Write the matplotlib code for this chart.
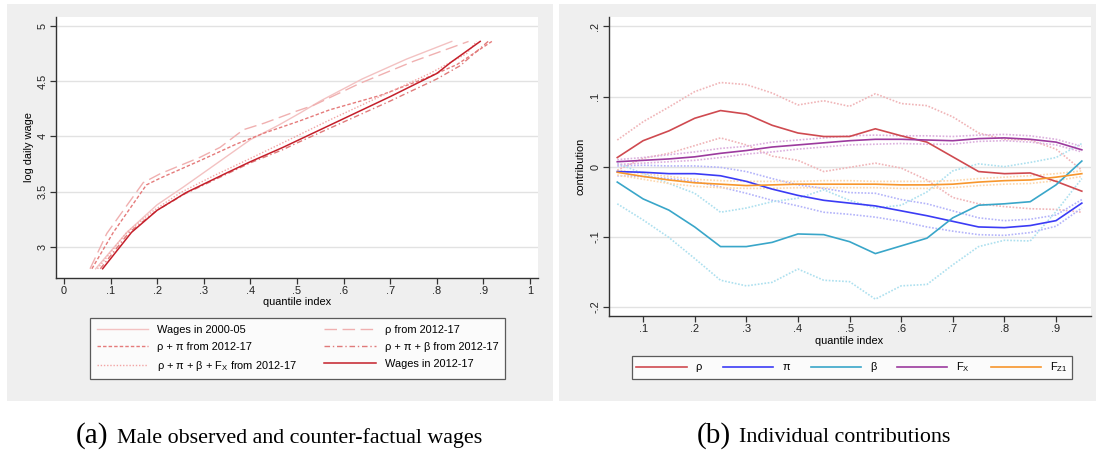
import numpy as np
import matplotlib.pyplot as plt
from matplotlib.patches import Rectangle

plt.rcParams['font.family'] = ['Liberation Sans', 'DejaVu Sans']

# ---- panel (a): observed and counter-factual wage quantiles ----
w0005_x = [0.068, 0.135, 0.20, 0.256, 0.313, 0.40, 0.46, 0.506, 0.55, 0.64, 0.735, 0.832]
w0005_y = [2.80, 3.13, 3.38, 3.54, 3.71, 3.97, 4.10, 4.21, 4.32, 4.52, 4.70, 4.86]

rho_x = [0.056, 0.092, 0.170, 0.206, 0.292, 0.335, 0.385, 0.43, 0.50, 0.535, 0.635, 0.75, 0.868]
rho_y = [2.80, 3.12, 3.58, 3.66, 3.81, 3.90, 4.06, 4.12, 4.23, 4.28, 4.48, 4.68, 4.86]

rp_x = [0.060, 0.106, 0.177, 0.206, 0.292, 0.37, 0.43, 0.506, 0.57, 0.678, 0.778, 0.843, 0.918]
rp_y = [2.80, 3.13, 3.56, 3.62, 3.78, 3.93, 4.03, 4.14, 4.24, 4.37, 4.53, 4.65, 4.86]

rpb_x = [0.078, 0.14, 0.20, 0.26, 0.35, 0.40, 0.47, 0.50, 0.60, 0.70, 0.80, 0.85, 0.91]
rpb_y = [2.80, 3.13, 3.33, 3.48, 3.66, 3.76, 3.88, 3.94, 4.13, 4.32, 4.52, 4.64, 4.86]

rpbf_x = [0.072, 0.135, 0.19, 0.25, 0.32, 0.40, 0.464, 0.571, 0.678, 0.785, 0.864, 0.885]
rpbf_y = [2.80, 3.13, 3.32, 3.49, 3.64, 3.80, 3.93, 4.15, 4.36, 4.57, 4.75, 4.86]

w1217_x = [0.083, 0.145, 0.20, 0.262, 0.35, 0.40, 0.47, 0.505, 0.60, 0.70, 0.80, 0.83, 0.893]
w1217_y = [2.80, 3.13, 3.33, 3.49, 3.67, 3.77, 3.90, 3.97, 4.16, 4.36, 4.57, 4.67, 4.86]

# ---- panel (b): individual contributions with confidence bands ----
q = [0.05, 0.10, 0.15, 0.20, 0.25, 0.30, 0.35, 0.40, 0.45, 0.50,
     0.55, 0.60, 0.65, 0.70, 0.75, 0.80, 0.85, 0.90, 0.95]

rho = [0.013, 0.037, 0.051, 0.069, 0.080, 0.075, 0.059, 0.048, 0.043, 0.043,
       0.054, 0.044, 0.035, 0.014, -0.007, -0.010, -0.009, -0.021, -0.035]
rho_hi = [0.038, 0.064, 0.085, 0.107, 0.120, 0.117, 0.105, 0.088, 0.094, 0.086,
          0.104, 0.090, 0.087, 0.071, 0.048, 0.039, 0.038, 0.025, -0.005]
rho_lo = [-0.005, 0.012, 0.019, 0.030, 0.041, 0.031, 0.015, 0.009, -0.007, -0.001,
          0.005, -0.002, -0.019, -0.044, -0.053, -0.057, -0.060, -0.061, -0.065]

pi = [-0.007, -0.008, -0.010, -0.010, -0.013, -0.021, -0.032, -0.041, -0.048, -0.052,
      -0.056, -0.063, -0.070, -0.078, -0.086, -0.087, -0.084, -0.077, -0.052]
pi_hi = [0.001, 0.002, 0.001, 0.001, -0.001, -0.007, -0.017, -0.026, -0.031, -0.037,
         -0.038, -0.047, -0.053, -0.063, -0.073, -0.077, -0.075, -0.069, -0.047]
pi_lo = [-0.013, -0.014, -0.017, -0.021, -0.029, -0.038, -0.048, -0.056, -0.065, -0.068,
         -0.072, -0.078, -0.086, -0.092, -0.097, -0.098, -0.094, -0.085, -0.059]

beta = [-0.022, -0.046, -0.062, -0.086, -0.114, -0.114, -0.108, -0.096, -0.097, -0.107,
        -0.124, -0.113, -0.102, -0.073, -0.055, -0.053, -0.050, -0.026, 0.008]
beta_hi = [0.005, -0.010, -0.024, -0.038, -0.065, -0.059, -0.050, -0.045, -0.033, -0.048,
           -0.059, -0.055, -0.036, -0.006, 0.004, 0.000, 0.006, 0.013, 0.033]
beta_lo = [-0.053, -0.076, -0.101, -0.131, -0.162, -0.170, -0.165, -0.146, -0.162, -0.164,
           -0.189, -0.170, -0.168, -0.140, -0.114, -0.105, -0.106, -0.064, -0.017]

fx = [0.007, 0.009, 0.011, 0.014, 0.019, 0.023, 0.028, 0.031, 0.034, 0.037,
      0.039, 0.039, 0.038, 0.037, 0.040, 0.041, 0.039, 0.035, 0.024]
fx_hi = [0.010, 0.013, 0.017, 0.021, 0.026, 0.029, 0.035, 0.038, 0.041, 0.044,
         0.045, 0.044, 0.044, 0.043, 0.045, 0.046, 0.044, 0.039, 0.029]
fx_lo = [0.003, 0.005, 0.007, 0.009, 0.013, 0.018, 0.021, 0.025, 0.028, 0.031,
         0.032, 0.033, 0.032, 0.032, 0.036, 0.037, 0.035, 0.031, 0.021]

fz = [-0.008, -0.014, -0.019, -0.023, -0.025, -0.027, -0.026, -0.025, -0.025, -0.025,
      -0.025, -0.026, -0.026, -0.025, -0.022, -0.020, -0.019, -0.015, -0.010]
fz_hi = [-0.005, -0.010, -0.014, -0.018, -0.020, -0.021, -0.021, -0.021, -0.020, -0.020,
         -0.021, -0.021, -0.021, -0.020, -0.017, -0.015, -0.013, -0.010, -0.006]
fz_lo = [-0.012, -0.018, -0.024, -0.028, -0.030, -0.031, -0.031, -0.030, -0.030, -0.030,
         -0.030, -0.031, -0.031, -0.030, -0.027, -0.025, -0.024, -0.020, -0.014]

W, H = 1096, 455
fig = plt.figure(figsize=(W / 100, H / 100), dpi=100)
fig.patch.set_facecolor('white')

def px_rect(x0, y0, x1, y1):
    return [x0 / W, 1 - y1 / H, (x1 - x0) / W, (y1 - y0) / H]

# gray panel backgrounds (behind the axes)
for x0, x1 in [(7, 553), (559, 1096)]:
    r = px_rect(x0, 4, x1, 401)
    fig.patches.append(Rectangle((r[0], r[1]), r[2], r[3], transform=fig.transFigure,
                                 facecolor='#efefef', edgecolor='none', zorder=-10))

tick_col = '#333333'
fs = 7.9

def style_axes(ax):
    for s in ['top', 'right']:
        ax.spines[s].set_visible(False)
    for s in ['left', 'bottom']:
        ax.spines[s].set_color(tick_col)
        ax.spines[s].set_linewidth(1.0)
    ax.tick_params(direction='out', length=4, width=0.9, color=tick_col,
                   labelsize=fs, labelcolor='#222222', pad=2)
    ax.grid(axis='y', color='#e2e2e2', linewidth=1.0)
    ax.set_axisbelow(True)
    for lab in ax.get_yticklabels():
        lab.set_rotation(90)
        lab.set_va('center')

# ---- left panel ----
ax1 = fig.add_axes(px_rect(56, 16.7, 538, 277.7))
ax1.set_facecolor('white')
l_w0005, = ax1.plot(w0005_x, w0005_y, color='#f3c2c2', lw=1.0, ls='-', label='Wages in 2000-05')
l_rho, = ax1.plot(rho_x, rho_y, color='#f0b0b0', lw=1.0, ls=(0, (9, 4)), label='\u03c1 from 2012-17')
l_rp, = ax1.plot(rp_x, rp_y, color='#e57b7b', lw=1.0, ls=(0, (2.5, 1.5)), label='\u03c1 + \u03c0 from 2012-17')
l_rpb, = ax1.plot(rpb_x, rpb_y, color='#e07a7a', lw=1.0, ls=(0, (4, 2, 1, 2)), label='\u03c1 + \u03c0 + \u03b2 from 2012-17')
l_rpbf, = ax1.plot(rpbf_x, rpbf_y, color='#f2a4a4', lw=1.0, ls=(0, (1, 1.3)),
                   label='\u03c1 + \u03c0 + \u03b2 + F$_{\\mathregular{X}}$ from 2012-17')
l_w1217, = ax1.plot(w1217_x, w1217_y, color='#c41f2a', lw=1.1, ls='-', label='Wages in 2012-17')
ax1.set_xlim(-0.017, 1.017)
ax1.set_ylim(2.719, 5.084)
ax1.set_xticks(np.arange(0, 1.01, 0.1))
ax1.set_xticklabels(['0', '.1', '.2', '.3', '.4', '.5', '.6', '.7', '.8', '.9', '1'])
ax1.set_yticks([3, 3.5, 4, 4.5, 5])
ax1.set_yticklabels(['3', '3.5', '4', '4.5', '5'])
style_axes(ax1)
ax1.set_xlabel('quantile index', fontsize=fs, labelpad=1)
ax1.set_ylabel('log daily wage', fontsize=fs, labelpad=3)

handles = [l_w0005, l_rp, l_rpbf, l_rho, l_rpb, l_w1217]
leg1 = ax1.legend(handles=handles, labels=[h.get_label() for h in handles], ncol=2,
                  loc='upper left', bbox_to_anchor=(90 / W, 1 - 318 / H),
                  bbox_transform=fig.transFigure, fontsize=fs, frameon=True,
                  fancybox=False, edgecolor='#333333', handlelength=4.7,
                  handletextpad=0.8, columnspacing=2.5, labelspacing=0.65,
                  borderpad=0.6, borderaxespad=0)
leg1.get_frame().set_linewidth(0.9)

# ---- right panel ----
ax2 = fig.add_axes(px_rect(608.5, 17.3, 1090.6, 316))
ax2.set_facecolor('white')
series = [
    ('\u03c1', rho, rho_hi, rho_lo, '#cf4a50', '#f0b5b8'),
    ('\u03c0', pi, pi_hi, pi_lo, '#3b3bf5', '#b4b4fa'),
    ('\u03b2', beta, beta_hi, beta_lo, '#39a6c9', '#ade0ef'),
    ('F$_{\\mathregular{X}}$', fx, fx_hi, fx_lo, '#9c3a9e', '#dcb0de'),
    ('F$_{\\mathregular{Z1}}$', fz, fz_hi, fz_lo, '#f7962c', '#fdd7ad'),
]
lines2 = []
for name, mid, hi, lo, col, light in series:
    ax2.plot(q, hi, color=light, lw=1.2, ls=(0, (1, 1)))
    ax2.plot(q, lo, color=light, lw=1.2, ls=(0, (1, 1)))
for name, mid, hi, lo, col, light in series:
    ln, = ax2.plot(q, mid, color=col, lw=1.2, label=name)
    lines2.append(ln)
ax2.set_xlim(0.033, 0.967)
ax2.set_ylim(-0.213, 0.213)
ax2.set_xticks(np.arange(0.1, 0.91, 0.1))
ax2.set_xticklabels(['.1', '.2', '.3', '.4', '.5', '.6', '.7', '.8', '.9'])
ax2.set_yticks([-0.2, -0.1, 0, 0.1, 0.2])
ax2.set_yticklabels(['-.2', '-.1', '0', '.1', '.2'])
style_axes(ax2)
ax2.set_xlabel('quantile index', fontsize=fs, labelpad=1)
ax2.set_ylabel('contribution', fontsize=fs, labelpad=3)

leg2 = ax2.legend(handles=lines2, ncol=5, loc='upper left',
                  bbox_to_anchor=(632 / W, 1 - 356 / H), bbox_transform=fig.transFigure,
                  fontsize=fs, frameon=True, fancybox=False, edgecolor='#333333',
                  handlelength=4.6, handletextpad=0.8, columnspacing=1.9,
                  borderpad=0.4, borderaxespad=0)
leg2.get_frame().set_linewidth(0.9)

# captions: larger sub-figure letter, then the caption text
cap_font = ['Liberation Serif', 'DejaVu Serif']
fig.text(76 / W, 1 - 436 / H, '(a)', ha='left', va='center', fontsize=21, family=cap_font)
fig.text(117 / W, 1 - 438 / H, 'Male observed and counter-factual wages',
         ha='left', va='center', fontsize=15.8, family=cap_font)
fig.text(697 / W, 1 - 436 / H, '(b)', ha='left', va='center', fontsize=21, family=cap_font)
fig.text(739 / W, 1 - 438 / H, 'Individual contributions',
         ha='left', va='center', fontsize=15.8, family=cap_font)

fig.savefig('out.png', dpi=100, facecolor='white')
